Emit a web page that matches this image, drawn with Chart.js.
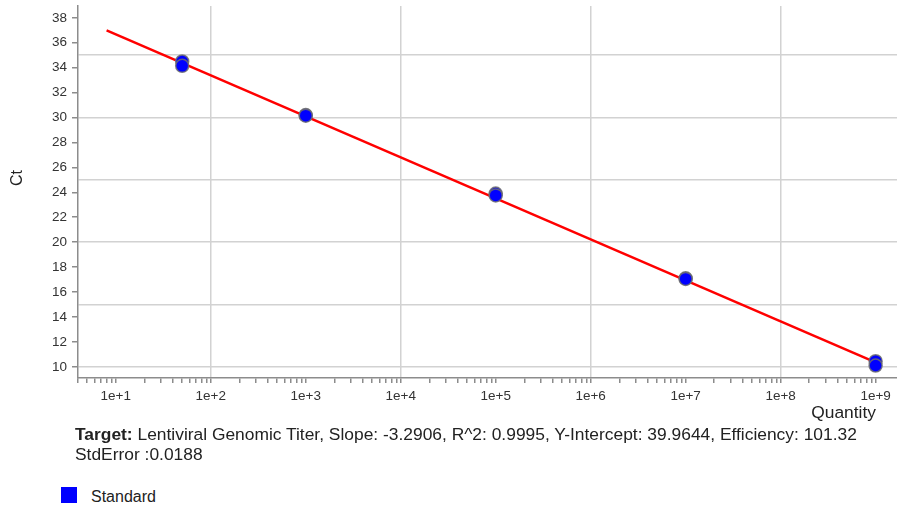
<!DOCTYPE html>
<html>
<head>
<meta charset="utf-8">
<script src="https://cdn.jsdelivr.net/npm/chart.js@4"></script>
<style>
  body { margin: 0; background: #fff; font-family: "Liberation Sans", Arial, sans-serif; }
  #wrap { position: absolute; left: 0; top: 0; width: 897px; height: 430px; }
  #info { position: absolute; left: 75px; top: 424px; font-size: 17.4px; line-height: 20px; color: #222; }
  #legend { position: absolute; left: 61px; top: 487px; font-size: 16px; color: #222; }
  #legend span.box { position: absolute; left: 0; top: 0; width: 16px; height: 16px; background: #0000ff; }
  #legend span.lbl { position: absolute; left: 30px; top: 1px; white-space: nowrap; line-height: 18px; }
</style>
</head>
<body>
<div id="wrap"><canvas id="myChart" width="897" height="430"></canvas></div>
<div id="info"><b>Target:</b> Lentiviral Genomic Titer, Slope: -3.2906, R^2: 0.9995, Y-Intercept: 39.9644, Efficiency: 101.32<br>StdError :0.0188</div>
<div id="legend"><span class="box"></span><span class="lbl">Standard</span></div>
<script>
// standards: quantity and Ct (duplicates)
var quantities = [50, 50, 1000, 1000, 100000, 100000, 10000000, 10000000, 1000000000, 1000000000];
var ctValues = [34.5, 34.15, 30.2, 30.15, 23.9, 23.75, 17.1, 17.05, 10.45, 10.1];

// fitted standard curve, end points
var fitX = [8, 1000000000];
var fitY = [37.0, 10.35];

// axis ranges
var xMin = 4, xMax = 1.68e9;
var yMin = 9.1, yMax = 38.95;

var pts = quantities.map(function (q, i) { return {x: q, y: ctValues[i]}; });
var fit = fitX.map(function (q, i) { return {x: q, y: fitY[i]}; });

function isPow10(v) {
  var e = Math.round(Math.log10(v));
  return Math.abs(v - Math.pow(10, e)) < 1e-6 * v ? e : null;
}

// axis titles placed like the original
var axisTitles = {
  id: 'axisTitles',
  afterDraw: function (chart) {
    var c = chart.ctx;
    c.save();
    c.fillStyle = '#222';
    c.font = '16px "Liberation Sans", Arial, sans-serif';
    c.textAlign = 'center';
    c.textBaseline = 'middle';
    c.translate(18, 178);
    c.rotate(-Math.PI / 2);
    c.fillText('Ct', 0, 0);
    c.restore();

    c.save();
    c.fillStyle = '#222';
    c.font = '17.4px "Liberation Sans", Arial, sans-serif';
    c.textAlign = 'right';
    c.textBaseline = 'alphabetic';
    c.fillText('Quantity', 876, 418);
    c.restore();
  }
};

var ctx = document.getElementById('myChart').getContext('2d');
var myChart = new Chart(ctx, {
  type: 'scatter',
  data: {
    datasets: [{
      label: 'Standard',
      data: pts,
      order: 0,
      backgroundColor: '#0000ff',
      borderColor: 'rgba(110,110,110,0.85)',
      borderWidth: 1.5,
      pointRadius: 6.5,
      pointHoverRadius: 6.5
    }, {
      label: 'Fit',
      data: fit,
      order: 1,
      showLine: true,
      borderColor: '#ff0000',
      borderWidth: 2.5,
      pointRadius: 0,
      fill: false
    }]
  },
  options: {
    responsive: false,
    animation: false,
    devicePixelRatio: 1,
    layout: { autoPadding: false, padding: { top: 6, right: 0, left: 0, bottom: 0 } },
    plugins: {
      legend: { display: false },
      tooltip: { enabled: false }
    },
    scales: {
      x: {
        type: 'logarithmic',
        min: xMin,
        max: xMax,
        afterBuildTicks: function (scale) {
          var t = [];
          for (var e = 0; e <= 9; e++) {
            for (var s = 1; s <= 9; s++) {
              var v = s * Math.pow(10, e);
              if (v >= xMin && v <= xMax) t.push({value: v});
            }
          }
          scale.ticks = t;
        },
        afterFit: function (scale) {
          scale.height = 52;
          scale.paddingLeft = 0;
          scale.paddingRight = 0;
        },
        border: { display: true, color: '#8c8c8c', width: 1.5 },
        grid: {
          color: function (c) {
            var e = c.tick ? isPow10(c.tick.value) : null;
            return (e !== null && e % 2 === 0 && e > 0) ? '#d2d2d2' : 'rgba(0,0,0,0)';
          },
          lineWidth: 1.5,
          tickColor: '#8c8c8c',
          tickLength: 5,
          drawTicks: true
        },
        ticks: {
          autoSkip: false,
          maxRotation: 0,
          padding: 5,
          color: '#333',
          font: { family: '"Liberation Sans", Arial, sans-serif', size: 13.5 },
          callback: function (value) {
            var e = isPow10(value);
            return (e !== null && e >= 1) ? '1e+' + e : '';
          }
        }
      },
      y: {
        min: yMin,
        max: yMax,
        afterFit: function (scale) {
          scale.width = 78;
          scale.paddingTop = 0;
          scale.paddingBottom = 0;
        },
        border: { display: true, color: '#8c8c8c', width: 1.5 },
        grid: {
          color: function (c) {
            var v = c.tick ? c.tick.value : 0;
            return Math.abs(v % 5) < 1e-6 ? '#d2d2d2' : 'rgba(0,0,0,0)';
          },
          lineWidth: 1.5,
          tickColor: function (c) {
            var v = c.tick ? c.tick.value : 1;
            return Math.abs(v % 2) < 1e-6 ? '#8c8c8c' : 'rgba(0,0,0,0)';
          },
          tickLength: 6,
          drawTicks: true
        },
        ticks: {
          stepSize: 1,
          includeBounds: false,
          autoSkip: false,
          padding: 5,
          color: '#333',
          font: { family: '"Liberation Sans", Arial, sans-serif', size: 13.5 },
          callback: function (value) {
            return Math.abs(value % 2) < 1e-6 ? String(value) : '';
          }
        }
      }
    }
  },
  plugins: [axisTitles]
});
</script>
</body>
</html>
